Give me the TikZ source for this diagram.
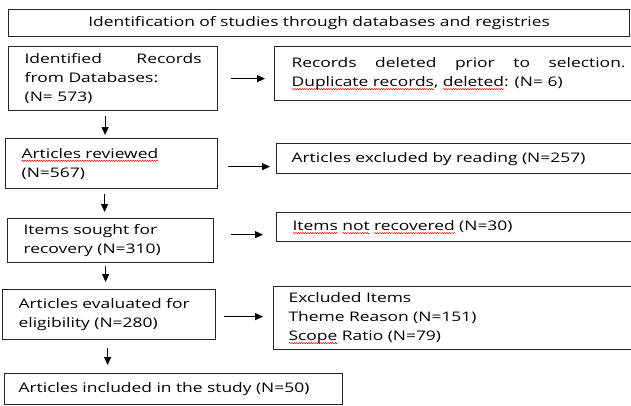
\documentclass[tikz,border=0pt]{standalone}
\usepackage{fontspec}
\setmainfont[FakeStretch=1.32]{Open Sans}
\usetikzlibrary{arrows.meta,decorations.pathmorphing}
\newsavebox\spellbox
\newcommand\spell[1]{\leavevmode\sbox\spellbox{#1}\rlap{\tikz[baseline=0pt]\draw[red, line width=0.5pt, decorate, decoration={snake, amplitude=0.6pt, segment length=2.4pt}] (0pt,-2.8pt) -- (\wd\spellbox,-2.8pt);}\usebox\spellbox}
\tikzset{
  box/.style={draw=black!85, line width=1.2pt, inner xsep=16pt, inner ysep=0pt,
    anchor=north west, align=left, font=\fontsize{13.2}{19}\selectfont},
  flow/.style={-{Triangle[length=8pt,width=7pt]}, line width=0.9pt}
}
\begin{document}
\begin{tikzpicture}[x=1pt,y=-1pt]
\useasboundingbox (0,0) rectangle (631,405);
\node[box, text width=589pt, minimum height=27pt, align=center] (head) at (8,9) {Identification of studies through databases and registries};
\node[box, text width=177pt, minimum height=64pt, align=justify] (b1) at (8,46) {Identified Records from Databases:\\(N= 573)};
\node[box, text width=334pt, minimum height=54pt, inner xsep=17pt, align=justify] (r1) at (274,46) {Records deleted prior to selection.\linebreak \spell{Duplicate records}, \spell{deleted}: (N= 6)};
\node[box, text width=180pt, minimum height=50pt] (b2) at (5,138) {\spell{Articles reviewed}\\(N=567)};
\node[box, text width=334pt, minimum height=30pt, inner xsep=15pt] (r2) at (276,143) {Articles excluded by reading (N=257)};
\node[box, text width=174pt, minimum height=44pt] (b3) at (7,218) {Items sought for\\recovery (N=310)};
\node[box, text width=334pt, minimum height=29pt] (r3) at (276,212) {\spell{Items} \spell{not} \spell{recovered} (N=30)};
\node[box, text width=181pt, minimum height=50pt] (b4) at (2,289) {Articles evaluated for\\eligibility (N=280)};
\node[box, text width=334pt, minimum height=63pt, inner xsep=15pt] (r4) at (273,286) {Excluded Items\\Theme Reason (N=151)\\\spell{Scope} Ratio (N=79)};
\node[box, text width=310pt, minimum height=31pt, inner xsep=14pt] (b5) at (4,373) {Articles included in the study (N=50)};
\draw[flow, shorten <=13pt, shorten >=9pt] (b1.east) -- (b1.east -| r1.west);
\draw[flow, shorten <=10pt, shorten >=6pt] ([yshift=-3pt]b2.east) -- ([yshift=-3pt]b2.east -| r2.west);
\draw[flow, shorten <=17pt, shorten >=13pt] ([yshift=6pt]b3.east) -- ([yshift=6pt]b3.east -| r3.west);
\draw[flow, shorten <=8pt, shorten >=10pt] ([yshift=-2pt]b4.east) -- ([yshift=-2pt]b4.east -| r4.west);
\draw[flow, shorten <=5pt, shorten >=3pt] ([xshift=-8pt]b1.south) -- ([xshift=-8pt]b1.south |- b2.north);
\draw[flow, shorten <=5pt, shorten >=6pt] ([xshift=-7pt]b2.south) -- ([xshift=-7pt]b2.south |- b3.north);
\draw[flow, shorten <=3pt, shorten >=7pt] ([xshift=-5pt]b3.south) -- ([xshift=-5pt]b3.south |- b4.north);
\draw[flow, shorten <=8pt, shorten >=8pt] ([xshift=-1.5pt]b4.south) -- ([xshift=-1.5pt]b4.south |- b5.north);
\end{tikzpicture}
\end{document}
